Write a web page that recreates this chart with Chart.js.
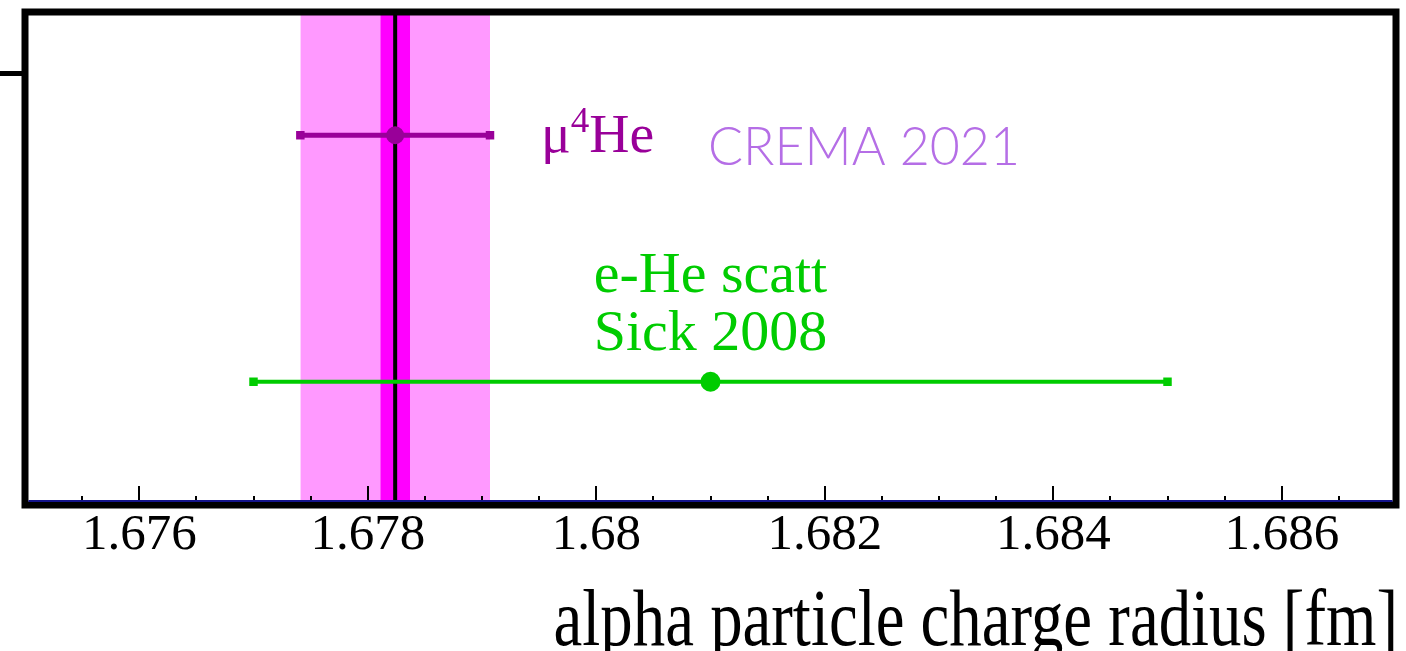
<!DOCTYPE html>
<html>
<head>
<meta charset="utf-8">
<title>alpha particle charge radius</title>
<script src="https://cdn.jsdelivr.net/npm/chart.js@4.4.0/dist/chart.umd.min.js"></script>
<style>
  html, body { margin: 0; padding: 0; background: #fff; }
  canvas { display: block; }
</style>
</head>
<body>
<canvas id="radiusChart" width="1406" height="651"></canvas>
<script>
// axis range and labelled ticks [fm]
const xRange = [1.675, 1.687];
const xTickLabels = [1.676, 1.678, 1.68, 1.682, 1.684, 1.686];
const xMinorStep = 0.0005;

// measurements: muonic helium (CREMA 2021) and e-He scattering (Sick 2008)
const measurementNames = ['μ4He CREMA 2021', 'e-He scatt Sick 2008'];
const radiusValues = [1.67824, 1.681];
const radiusErrors = [0.00083, 0.004];
const expErrors = [0.00013];          // experimental part of the CREMA error
const rowValues = [3, 1];
const yRange = [0, 4];
const yTickValues = [3.5];

const SERIF = '"Liberation Serif", "Times New Roman", serif';
const PURPLE = '#990099';
const GREEN = '#00CC00';

const crema = radiusValues[0];

function drawText(ctx, text, x, y, font, color, align, sx) {
    ctx.save();
    ctx.translate(x, y);
    ctx.scale(sx, 1);
    ctx.font = font;
    ctx.fillStyle = color;
    ctx.textAlign = align;
    ctx.textBaseline = 'alphabetic';
    ctx.fillText(text, 0, 0);
    ctx.restore();
}

/**
 * Frame, inward ticks and text labels
 */
const decorPlugin = {
    id: 'decor',
    afterDraw(chart) {
        const { ctx, chartArea: a, scales: { x } } = chart;
        ctx.save();

        // frame round the plot
        ctx.strokeStyle = '#000';
        ctx.lineWidth = 7;
        ctx.strokeRect(a.left, a.top, a.right - a.left, a.bottom - a.top);

        // x axis line
        const axisY = a.bottom - 4;
        ctx.strokeStyle = '#14148c';
        ctx.lineWidth = 2;
        ctx.beginPath();
        ctx.moveTo(a.left + 3.5, axisY);
        ctx.lineTo(a.right - 3.5, axisY);
        ctx.stroke();

        // major and minor ticks pointing into the plot
        ctx.strokeStyle = '#000';
        ctx.lineWidth = 2;
        const n = Math.round((xRange[1] - xRange[0]) / xMinorStep);
        for (let i = 1; i < n; i++) {
            const v = xRange[0] + i * xMinorStep;
            const major = xTickLabels.some(t => Math.abs(t - v) < 1e-9);
            const px = Math.round(x.getPixelForValue(v));
            ctx.beginPath();
            ctx.moveTo(px, axisY - 1);
            ctx.lineTo(px, axisY - (major ? 15 : 5));
            ctx.stroke();
        }

        // muonic helium label
        ctx.save();
        ctx.translate(541, 152);
        ctx.scale(1.03, 1);
        ctx.fillStyle = PURPLE;
        ctx.textBaseline = 'alphabetic';
        ctx.font = '54px ' + SERIF;
        ctx.fillText('μ', 0, 0);
        let off = ctx.measureText('μ').width;
        ctx.font = '36px ' + SERIF;
        ctx.fillText('4', off, -20);
        off += ctx.measureText('4').width;
        ctx.font = '54px ' + SERIF;
        ctx.fillText('He', off, 0);
        ctx.restore();

        drawText(ctx, 'CREMA 2021', 708, 165, '300 54px Lato, "Open Sans", sans-serif', '#B56EE6', 'left', 0.96);

        // scattering label, centred over its point
        const gx = x.getPixelForValue(radiusValues[1]);
        drawText(ctx, 'e-He scatt', gx, 292, '58px ' + SERIF, GREEN, 'center', 1);
        drawText(ctx, 'Sick 2008', gx, 350, '58px ' + SERIF, GREEN, 'center', 1);

        // axis title
        drawText(ctx, 'alpha particle charge radius [fm]', 1398, 645, '80px ' + SERIF, '#000', 'right', 0.81);

        ctx.restore();
    }
};

const chart = new Chart(document.getElementById('radiusChart'), {
    type: 'line',
    data: {
        datasets: [
            {
                // total uncertainty band
                data: [{ x: crema - radiusErrors[0], y: yRange[1] }, { x: crema + radiusErrors[0], y: yRange[1] }],
                fill: 'origin',
                backgroundColor: '#FF99FF',
                borderWidth: 0,
                pointRadius: 0,
                order: 7
            },
            {
                // experimental uncertainty band
                data: [{ x: crema - expErrors[0], y: yRange[1] }, { x: crema + expErrors[0], y: yRange[1] }],
                fill: 'origin',
                backgroundColor: '#FF00FF',
                borderWidth: 0,
                pointRadius: 0,
                order: 6
            },
            {
                // central value
                data: [{ x: crema, y: yRange[0] }, { x: crema, y: yRange[1] }],
                borderColor: '#000',
                borderWidth: 4,
                pointRadius: 0,
                order: 5
            },
            {
                label: measurementNames[0],
                data: [{ x: crema - radiusErrors[0], y: rowValues[0] }, { x: crema + radiusErrors[0], y: rowValues[0] }],
                borderColor: PURPLE,
                borderWidth: 5,
                pointStyle: 'rect',
                pointRadius: 6,
                pointBackgroundColor: PURPLE,
                pointBorderWidth: 0,
                order: 4
            },
            {
                label: measurementNames[1],
                data: [{ x: radiusValues[1] - radiusErrors[1], y: rowValues[1] }, { x: radiusValues[1] + radiusErrors[1], y: rowValues[1] }],
                borderColor: GREEN,
                borderWidth: 4,
                pointStyle: 'rect',
                pointRadius: 6,
                pointBackgroundColor: GREEN,
                pointBorderWidth: 0,
                order: 3
            },
            {
                data: [{ x: radiusValues[0], y: rowValues[0] }],
                showLine: false,
                pointRadius: 9,
                pointBackgroundColor: PURPLE,
                pointBorderWidth: 0,
                order: 2
            },
            {
                data: [{ x: radiusValues[1], y: rowValues[1] }],
                showLine: false,
                pointRadius: 10,
                pointBackgroundColor: GREEN,
                pointBorderWidth: 0,
                order: 1
            }
        ]
    },
    options: {
        responsive: false,
        animation: false,
        devicePixelRatio: 1,
        layout: { padding: { top: 12, right: 1, left: 0, bottom: 0 } },
        elements: { line: { tension: 0 } },
        scales: {
            x: {
                type: 'linear',
                position: 'bottom',
                min: xRange[0],
                max: xRange[1],
                afterBuildTicks: scale => { scale.ticks = xTickLabels.map(v => ({ value: v })); },
                afterFit: scale => { scale.height = 146; },
                grid: { display: false },
                border: { display: false },
                ticks: {
                    padding: 0,
                    maxRotation: 0,
                    autoSkip: false,
                    color: '#000',
                    font: { family: SERIF, size: 51, lineHeight: 0.9 },
                    callback: v => String(v)
                }
            },
            y: {
                type: 'linear',
                position: 'left',
                min: yRange[0],
                max: yRange[1],
                afterBuildTicks: scale => { scale.ticks = yTickValues.map(v => ({ value: v })); },
                afterFit: scale => { scale.width = 25; },
                grid: { drawOnChartArea: false, drawTicks: true, tickLength: 25, lineWidth: 5, color: '#000' },
                border: { display: false },
                ticks: { display: false }
            }
        },
        plugins: {
            legend: { display: false },
            tooltip: { enabled: false }
        }
    },
    plugins: [decorPlugin]
});
</script>
</body>
</html>
